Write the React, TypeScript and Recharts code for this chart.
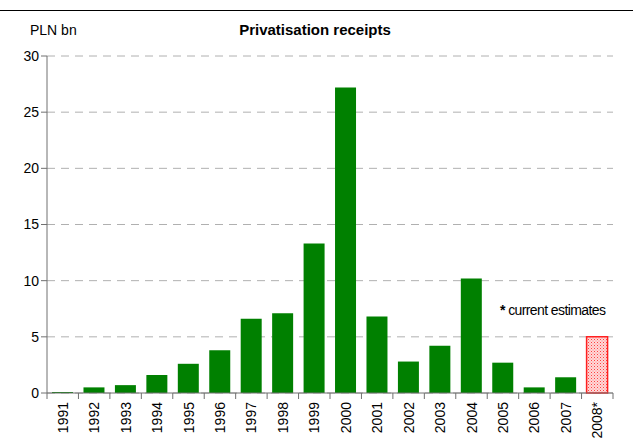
import React from "react";
import { BarChart, Bar, XAxis, YAxis, CartesianGrid, Cell } from "recharts";

const years = ["1991", "1992", "1993", "1994", "1995", "1996", "1997", "1998", "1999", "2000", "2001", "2002", "2003", "2004", "2005", "2006", "2007", "2008*"];
const receipts = [0.1, 0.5, 0.7, 1.6, 2.6, 3.8, 6.6, 7.1, 13.3, 27.2, 6.8, 2.8, 4.2, 10.2, 2.7, 0.5, 1.4, 5.0];
const estimated = [false, false, false, false, false, false, false, false, false, false, false, false, false, false, false, false, false, true];
const yTicks = [0, 5, 10, 15, 20, 25, 30];

const data = years.map((year, i) => ({ year, value: receipts[i], est: estimated[i] }));

const FONT = "'Liberation Sans', Arial, sans-serif";
const AXIS = "#707070";

const W = 633;
const M = { top: 56, right: 20, left: 10, bottom: 5 };
const Y_W = 37;
// half a category band: shifts the x tick marks to sit between the bars
const HALF_BAND = (W - M.left - M.right - Y_W) / years.length / 2;

function YearTick(props: any) {
  const { x, y, payload } = props;
  const last = payload.value === years[years.length - 1];
  return (
    <g>
      {last && (
        <path d={`M${x + HALF_BAND},${y - 8}v6`} stroke={AXIS} strokeWidth={1} />
      )}
      <text
        x={x + 5}
        y={y + 1}
        transform={`rotate(-90, ${x + 5}, ${y + 1})`}
        textAnchor="end"
        fontSize={14}
        fontFamily={FONT}
        fill="#000"
      >
        {payload.value}
      </text>
    </g>
  );
}

export default function App() {
  return (
    <div style={{ position: "absolute", left: 0, top: 0, width: W, height: 448, background: "#fff", fontFamily: FONT }}>
      <div style={{ position: "absolute", left: 0, top: 10, width: W, borderTop: "1px solid #000" }} />
      <div style={{ position: "absolute", left: 30, top: 22, fontSize: 14, color: "#000" }}>PLN bn</div>
      <div style={{ position: "absolute", left: 0, width: 630, textAlign: "center", top: 21, fontSize: 15, fontWeight: "bold", color: "#000" }}>
        Privatisation receipts
      </div>
      <div style={{ position: "absolute", left: 500, top: 302, fontSize: 14, color: "#000", letterSpacing: -0.6 }}>
        <b>*</b> current estimates
      </div>
      <BarChart width={W} height={448} data={data} margin={M} barCategoryGap="16%">
        <defs>
          <pattern id="hatch" width="3" height="3" patternUnits="userSpaceOnUse">
            <rect width="3" height="3" fill="#ffd8d8" />
            <rect width="1" height="1" fill="#ff4040" />
            <rect x="1.5" y="1.5" width="1" height="1" fill="#ff8080" />
          </pattern>
        </defs>
        <CartesianGrid vertical={false} stroke="#b0b0b0" strokeDasharray="8 6" />
        <XAxis
          dataKey="year"
          interval={0}
          height={50}
          tickSize={6}
          tickMargin={2}
          tickLine={{ stroke: AXIS, transform: `translate(${-HALF_BAND}, 0)` }}
          axisLine={{ stroke: AXIS }}
          tick={<YearTick />}
        />
        <YAxis
          domain={[0, 30]}
          ticks={yTicks}
          width={Y_W}
          tickSize={6}
          tickLine={{ stroke: AXIS }}
          axisLine={{ stroke: AXIS }}
          tick={{ fontSize: 14, fill: "#000", fontFamily: FONT }}
        />
        <Bar dataKey="value" isAnimationActive={false}>
          {data.map((d, i) => (
            <Cell
              key={i}
              fill={d.est ? "url(#hatch)" : "#008000"}
              stroke={d.est ? "#ff2020" : "none"}
              strokeWidth={d.est ? 1.5 : 0}
            />
          ))}
        </Bar>
      </BarChart>
    </div>
  );
}
